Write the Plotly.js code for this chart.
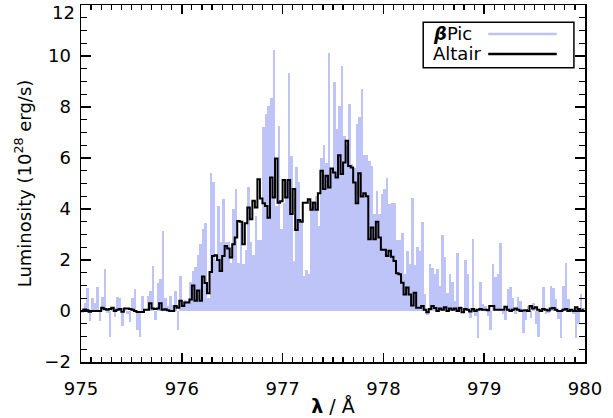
<!DOCTYPE html>
<html>
<head>
<meta charset="utf-8">
<script src="https://cdn.plot.ly/plotly-3.0.1.min.js"></script>
<style>html,body{margin:0;padding:0;background:#fff;}#chart{width:613px;height:418px;}</style>
</head>
<body>
<div id="chart"></div>
<script>
// Wavelength bin centres (Å), 0.025 Å bins
const wavelength = [
975.0125,975.0375,975.0625,975.0875,975.1125,975.1375,975.1625,975.1875,975.2125,975.2375,975.2625,975.2875,975.3125,975.3375,975.3625,975.3875,975.4125,975.4375,975.4625,975.4875,975.5125,975.5375,975.5625,975.5875,975.6125,975.6375,975.6625,975.6875,975.7125,975.7375,975.7625,975.7875,975.8125,975.8375,975.8625,975.8875,975.9125,975.9375,975.9625,975.9875,
976.0125,976.0375,976.0625,976.0875,976.1125,976.1375,976.1625,976.1875,976.2125,976.2375,976.2625,976.2875,976.3125,976.3375,976.3625,976.3875,976.4125,976.4375,976.4625,976.4875,976.5125,976.5375,976.5625,976.5875,976.6125,976.6375,976.6625,976.6875,976.7125,976.7375,976.7625,976.7875,976.8125,976.8375,976.8625,976.8875,976.9125,976.9375,976.9625,976.9875,
977.0125,977.0375,977.0625,977.0875,977.1125,977.1375,977.1625,977.1875,977.2125,977.2375,977.2625,977.2875,977.3125,977.3375,977.3625,977.3875,977.4125,977.4375,977.4625,977.4875,977.5125,977.5375,977.5625,977.5875,977.6125,977.6375,977.6625,977.6875,977.7125,977.7375,977.7625,977.7875,977.8125,977.8375,977.8625,977.8875,977.9125,977.9375,977.9625,977.9875,
978.0125,978.0375,978.0625,978.0875,978.1125,978.1375,978.1625,978.1875,978.2125,978.2375,978.2625,978.2875,978.3125,978.3375,978.3625,978.3875,978.4125,978.4375,978.4625,978.4875,978.5125,978.5375,978.5625,978.5875,978.6125,978.6375,978.6625,978.6875,978.7125,978.7375,978.7625,978.7875,978.8125,978.8375,978.8625,978.8875,978.9125,978.9375,978.9625,978.9875,
979.0125,979.0375,979.0625,979.0875,979.1125,979.1375,979.1625,979.1875,979.2125,979.2375,979.2625,979.2875,979.3125,979.3375,979.3625,979.3875,979.4125,979.4375,979.4625,979.4875,979.5125,979.5375,979.5625,979.5875,979.6125,979.6375,979.6625,979.6875,979.7125,979.7375,979.7625,979.7875,979.8125,979.8375,979.8625,979.8875,979.9125,979.9375,979.9625,979.9875
];

// beta Pic luminosity (1e28 erg/s)
const betaPic = [
-0.07,0.3,0.92,-0.4,0.5,0.3,0.95,-0.4,0.55,1.65,
-0.07,-1.0,0.1,-0.25,0.56,0.5,-0.6,0.15,-0.1,-0.43,
0.5,0.87,-0.75,-1.0,0.57,0.05,0.57,0.77,1.75,-0.34,
1.08,1.25,3.13,0.5,0.2,0.6,0.25,0.8,-0.75,1.37,
0.4,0.45,0.4,1.14,1.57,1.73,2.19,2.62,3.2,3.44,
0.52,5.4,5.07,2.0,4.1,2.7,4.4,2.7,2.7,1.9,
4.0,4.8,1.9,3.5,1.85,2.4,4.87,2.7,2.2,3.73,
2.8,2.8,7.2,7.72,8.05,8.34,10.24,4.1,7.24,3.2,
4.25,5.1,9.33,6.08,1.96,5.65,5.04,3.53,1.37,1.6,
1.44,4.3,4.3,4.5,3.34,6.0,6.5,5.8,10.1,5.6,
8.97,7.13,8.05,9.62,6.87,6.5,8.1,5.76,5.6,7.33,
7.6,8.7,6.1,6.1,5.9,5.7,3.8,4.7,3.8,4.6,
4.8,5.2,4.2,4.25,4.25,2.8,2.8,3.05,1.44,2.36,
1.83,4.45,1.8,2.5,2.36,3.5,0.65,-0.17,1.83,1.7,
1.44,1.64,1.0,3.0,2.13,0.7,1.44,1.14,0.39,2.26,
0.2,-0.07,2.0,1.44,-0.26,2.84,-0.2,-1.05,1.14,0.26,
0.2,-0.2,-0.75,1.83,1.35,1.44,2.68,-0.13,-0.35,0.85,
0.96,0.5,-0.13,0.56,0.39,-0.85,-0.35,0.2,-0.26,0.3,
-0.5,-1.0,0.0,0.96,-0.13,-0.07,1.0,0.92,0.46,-0.3,
-1.05,1.0,1.87,0.46,0.0,-0.13,-1.05,-0.5,0.65,0.1
];

// Altair luminosity (1e28 erg/s)
const altair = [
0.06,0.06,0.03,-0.03,0.0,0.0,0.0,0.0,0.13,0.08,
0.05,0.08,0.13,0.0,0.05,0.08,-0.03,0.1,0.1,0.08,
0.05,0.0,-0.04,-0.04,-0.04,0.05,0.05,0.3,0.1,0.08,
0.1,0.3,0.05,0.07,0.03,0.0,0.0,0.2,0.13,0.4,
0.2,0.33,0.33,0.45,1.0,0.4,0.8,0.4,1.35,1.1,
0.7,1.53,2.16,2.19,2.0,1.57,2.16,2.55,2.45,2.1,
2.62,2.88,3.53,3.5,2.62,3.44,4.06,3.6,4.32,4.06,
5.17,4.41,4.23,4.12,3.66,5.24,4.45,5.98,4.25,4.3,
5.14,4.45,5.14,3.8,4.78,3.18,3.57,3.5,4.25,4.25,
4.38,3.97,4.25,3.97,4.62,5.5,4.78,5.3,4.84,5.59,
5.43,5.24,6.11,5.37,5.82,6.68,5.69,5.63,5.04,4.23,
5.4,4.49,4.62,4.5,2.81,3.27,2.81,3.5,2.88,2.4,
2.4,2.16,2.36,2.13,1.96,1.48,1.44,1.11,0.65,0.92,
0.65,0.22,0.72,0.13,0.13,0.2,0.05,-0.05,0.08,0.2,
0.12,0.0,0.1,0.05,0.15,0.0,0.1,0.05,0.1,0.0,
0.12,-0.05,0.08,0.05,-0.02,0.08,0.0,0.05,0.08,0.05,
0.05,0.03,0.2,0.2,0.05,0.05,0.05,0.05,0.17,0.05,
0.0,0.05,0.1,0.05,0.0,0.02,0.03,0.0,0.2,0.1,
0.15,0.05,0.0,0.08,0.05,0.02,0.1,0.12,0.05,0.0,
0.0,0.05,0.08,0.0,0.05,0.0,0.15,0.08,0.0,0.05
];

// y tick values and labels (top label drawn separately so it stays inside the figure)
const yTickVals = [-2, 0, 2, 4, 6, 8, 10, 12];
const yTickText = ['−2', '0', '2', '4', '6', '8', '10', ''];
const yTopLabel = '12';

const seriesNames = ['<b><i>β</i></b>Pic', 'Altair'];
const seriesColors = ['#bec3f8', '#000000'];
const binWidth = 0.025;

const traces = [
  {type: 'bar', x: wavelength, y: betaPic, width: binWidth, name: 'βPic',
   marker: {color: seriesColors[0], line: {width: 0}}, showlegend: false, hoverinfo: 'x+y'},
  {type: 'scatter', mode: 'lines', x: wavelength, y: altair, name: 'Altair',
   line: {shape: 'hvh', color: seriesColors[1], width: 2}, showlegend: false}
];

const font = 'DejaVu Sans, Liberation Sans, Arial, sans-serif';

const layout = {
  width: 613, height: 418,
  margin: {l: 81, r: 28, t: 5, b: 56},
  paper_bgcolor: '#ffffff', plot_bgcolor: '#ffffff',
  font: {family: font, color: '#000', size: 18},
  bargap: 0,
  xaxis: {
    range: [975, 980], tick0: 975, dtick: 1,
    showgrid: false, zeroline: false,
    showline: true, linecolor: '#000', linewidth: 1.5, mirror: 'allticks',
    ticks: 'inside', ticklen: 9, tickwidth: 1.5, tickcolor: '#000',
    minor: {dtick: 0.1, ticks: 'inside', ticklen: 5, tickwidth: 1.2, tickcolor: '#000', showgrid: false},
    tickfont: {size: 18}, ticklabelstandoff: 10, ticklabeloverflow: 'allow',
    title: {text: '<b>λ</b> / Å', font: {size: 19}, standoff: 1}
  },
  yaxis: {
    range: [-2, 12], tickmode: 'array', tickvals: yTickVals, ticktext: yTickText,
    showgrid: false, zeroline: false,
    showline: true, linecolor: '#000', linewidth: 1.5, mirror: 'allticks',
    ticks: 'inside', ticklen: 10, tickwidth: 1.5, tickcolor: '#000',
    minor: {dtick: 0.5, ticks: 'inside', ticklen: 6, tickwidth: 1.2, tickcolor: '#000', showgrid: false},
    tickfont: {size: 18}, ticklabelstandoff: 5, ticklabeloverflow: 'allow',
    title: {text: 'Luminosity (10<sup>28</sup> erg/s)', font: {size: 18}, standoff: 8}
  },
  shapes: [
    {type: 'rect', xref: 'paper', yref: 'paper', x0: 0.679, x1: 0.978, y0: 0.824, y1: 0.952,
     line: {color: '#000', width: 1.5}, fillcolor: 'rgba(255,255,255,0)'},
    {type: 'line', xref: 'paper', yref: 'paper', x0: 0.808, x1: 0.944, y0: 0.919, y1: 0.919,
     line: {color: seriesColors[0], width: 2.5}},
    {type: 'line', xref: 'paper', yref: 'paper', x0: 0.808, x1: 0.944, y0: 0.863, y1: 0.863,
     line: {color: seriesColors[1], width: 2.5}}
  ],
  annotations: [
    {xref: 'paper', yref: 'paper', x: 0.694, y: 0.919, xanchor: 'left', yanchor: 'middle',
     text: seriesNames[0], showarrow: false, font: {size: 18}},
    {xref: 'paper', yref: 'paper', x: 0.694, y: 0.863, xanchor: 'left', yanchor: 'middle',
     text: seriesNames[1], showarrow: false, font: {size: 18}},
    {xref: 'paper', yref: 'y', x: 0, y: yTickVals[yTickVals.length - 1], xanchor: 'right', yanchor: 'top',
     xshift: -4, yshift: 5, text: yTopLabel, showarrow: false, font: {size: 18}}
  ]
};

Plotly.newPlot('chart', traces, layout, {displayModeBar: false, staticPlot: true});
</script>
</body>
</html>
